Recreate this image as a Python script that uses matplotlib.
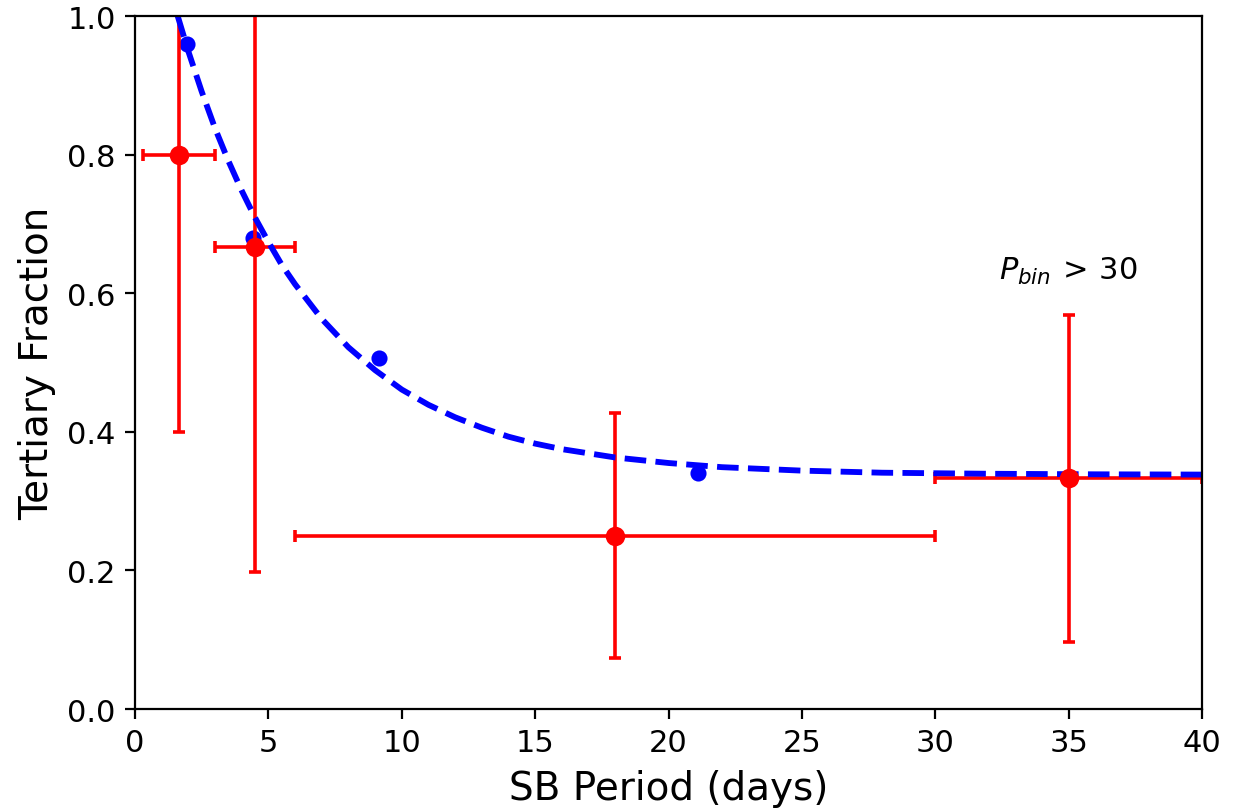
import numpy as np
import matplotlib
matplotlib.use('Agg')
import matplotlib.pyplot as plt

# binned tertiary fraction (red, with error bars)
per_bin = [1.65, 4.5, 18.0, 35.0]
frac_bin = [0.8, 0.667, 0.25, 0.333]
per_err = [1.35, 1.5, 12.0, 5.0]
frac_err = [0.4, 0.47, 0.177, 0.236]

# other survey points (blue)
per_pts = [1.95, 4.42, 9.15, 21.1]
frac_pts = [0.96, 0.68, 0.507, 0.34]

# dashed curve
curve_x = [1.6, 2, 2.5, 3, 3.5, 4, 4.5, 5, 5.5, 6, 7, 8, 9, 10, 11, 12, 13,
           14, 15, 16, 18, 20, 22, 25, 28, 32, 36, 40]
curve_y = [1.0, 0.949, 0.891, 0.838, 0.791, 0.748, 0.709, 0.674, 0.641,
           0.613, 0.563, 0.522, 0.489, 0.461, 0.439, 0.421, 0.406, 0.393,
           0.383, 0.375, 0.363, 0.355, 0.349, 0.344, 0.341, 0.3395, 0.3387,
           0.3383]

fig = plt.figure(figsize=(6.165, 4.06), dpi=200)
ax = fig.add_axes([0.1095, 0.1256, 0.8654, 0.8534])

ax.plot(per_pts, frac_pts, 'bo', ms=4.8)
ax.errorbar(per_bin, frac_bin, xerr=per_err, yerr=frac_err, fmt='ro', ms=6,
            elinewidth=1.3, capsize=2.3, capthick=1.3)
ax.plot(curve_x, curve_y, 'b--', lw=2.1)

ax.text(35, 0.62, r'$P_{bin}\,>\,30$', ha='center', va='baseline', fontsize=11)

ax.set_xlim(0, 40)
ax.set_ylim(0, 1.0)
ax.set_xlabel('SB Period (days)', fontsize=14)
ax.set_ylabel('Tertiary Fraction', fontsize=14)
ax.tick_params(labelsize=11)

fig.savefig('out.png', dpi=200)
